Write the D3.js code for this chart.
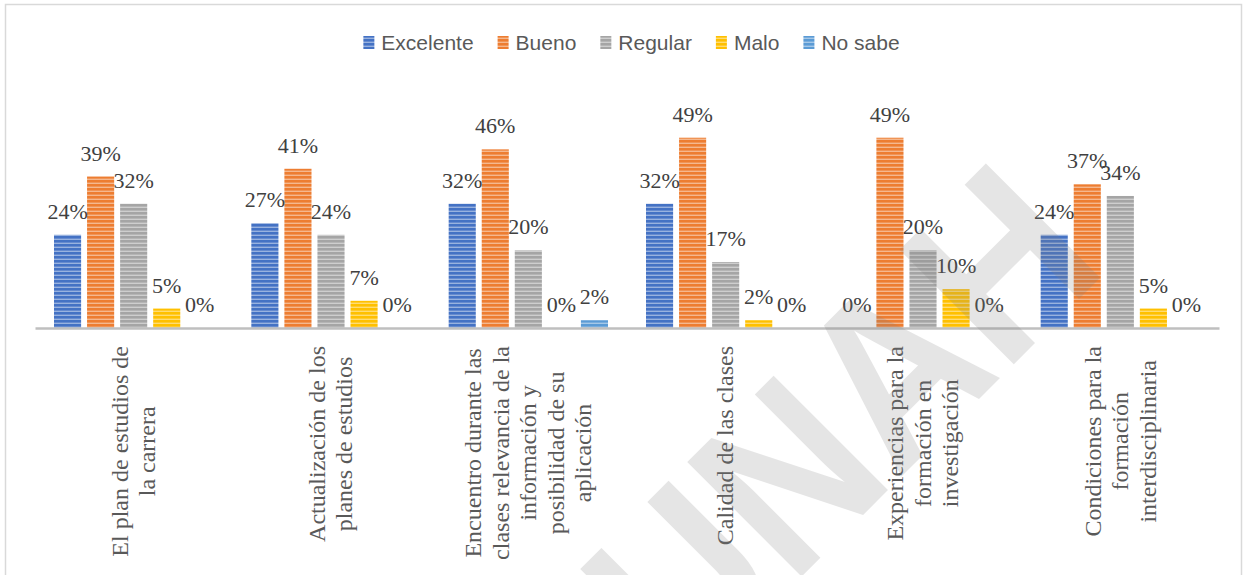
<!DOCTYPE html>
<html>
<head>
<meta charset="utf-8">
<script src="https://cdn.jsdelivr.net/npm/d3@7/dist/d3.min.js"></script>
<style>
  html, body { margin: 0; padding: 0; background: #fff; }
  svg { display: block; }
</style>
</head>
<body>
<div id="chart"></div>
<script>
// categories, split in lines the way the source wraps them
var categoryLines = [
  ["El plan de estudios de", "la carrera"],
  ["Actualización de los", "planes de estudios"],
  ["Encuentro durante las", "clases relevancia de la", "información y", "posibilidad de su", "aplicación"],
  ["Calidad de las clases"],
  ["Experiencias para la", "formación en", "investigación"],
  ["Condiciones para la", "formación", "interdisciplinaria"]
];
var categories = categoryLines.map(function(l) { return l.join(" "); });

var seriesNames = ["Excelente", "Bueno", "Regular", "Malo", "No sabe"];
var seriesColors = ["#4472C4", "#ED7D31", "#A5A5A5", "#FFC000", "#5B9BD5"];

var excelente = [0.24, 0.27, 0.32, 0.32, 0.00, 0.24];
var bueno     = [0.39, 0.41, 0.46, 0.49, 0.49, 0.37];
var regular   = [0.32, 0.24, 0.20, 0.17, 0.20, 0.34];
var malo      = [0.05, 0.07, 0.00, 0.02, 0.10, 0.05];
var noSabe    = [0.00, 0.00, 0.02, 0.00, 0.00, 0.00];
var seriesValues = [excelente, bueno, regular, malo, noSabe];

var width = 1246, height = 575;

var svg = d3.select("#chart").append("svg")
  .attr("width", width)
  .attr("height", height);

svg.append("rect")
  .attr("width", width).attr("height", height)
  .attr("fill", "#fff");

// chart area border
svg.append("rect")
  .attr("x", 5.5).attr("y", 4.5)
  .attr("width", 1236).attr("height", 620)
  .attr("fill", "none")
  .attr("stroke", "#d9d9d9")
  .attr("stroke-width", 1.5);

// striped fills
var defs = svg.append("defs");
seriesColors.forEach(function(c, i) {
  var p = defs.append("pattern")
    .attr("id", "stripe" + i)
    .attr("patternUnits", "userSpaceOnUse")
    .attr("width", 8).attr("height", 4);
  p.append("rect").attr("width", 8).attr("height", 4).attr("fill", c);
  p.append("rect").attr("y", 2.6).attr("width", 8).attr("height", 1.4)
    .attr("fill", "#fff").attr("opacity", 0.45);
});

var x0 = d3.scaleBand().domain(categories).range([35, 1219]);
var x1 = d3.scaleBand().domain(seriesNames)
  .range([19, x0.bandwidth() - 19])
  .paddingInner(0.18);
var y = d3.scaleLinear().domain([0, 0.6]).range([328, 95]);

var rows = categories.map(function(c, ci) {
  return seriesNames.map(function(s, si) {
    return { cat: c, series: s, si: si, value: seriesValues[si][ci] };
  });
});

var groups = svg.selectAll(".group")
  .data(rows)
  .enter().append("g")
    .attr("class", "group")
    .attr("transform", function(d, i) { return "translate(" + x0(categories[i]) + ",0)"; });

groups.selectAll(".bar")
  .data(function(d) { return d; })
  .enter().append("rect")
    .attr("class", "bar")
    .attr("x", function(d) { return x1(d.series); })
    .attr("y", function(d) { return y(d.value); })
    .attr("width", x1.bandwidth())
    .attr("height", function(d) { return y(0) - y(d.value); })
    .attr("fill", function(d) { return "url(#stripe" + d.si + ")"; });

// data labels, 0% included
groups.selectAll(".lbl")
  .data(function(d) { return d; })
  .enter().append("text")
    .attr("class", "lbl")
    .attr("x", function(d) { return x1(d.series) + x1.bandwidth() / 2; })
    .attr("y", function(d) { return y(d.value) - 16; })
    .attr("text-anchor", "middle")
    .attr("font-family", "'Liberation Serif', 'Times New Roman', serif")
    .attr("font-size", 22)
    .attr("fill", "#404040")
    .text(function(d) { return Math.round(d.value * 100) + "%"; });

// category axis line
var xAxis = svg.append("g")
  .attr("transform", "translate(0," + y(0) + ")")
  .call(d3.axisBottom(x0).tickSize(0).tickSizeOuter(0).tickFormat(""));
xAxis.select(".domain")
  .attr("stroke", "#bfbfbf")
  .attr("stroke-width", 2.5);

// rotated multi-line category labels
var labelTop = 346, lineGap = 27.5;
categoryLines.forEach(function(lines, ci) {
  var cx = x0(categories[ci]) + x0.bandwidth() / 2;
  var g = svg.append("g")
    .attr("transform", "translate(" + cx + "," + labelTop + ") rotate(-90)");
  var texts = g.selectAll("text")
    .data(lines)
    .enter().append("text")
      .attr("font-family", "'Liberation Serif', 'Times New Roman', serif")
      .attr("font-size", 24)
      .attr("fill", "#595959")
      .attr("text-anchor", "middle")
      .attr("y", function(d, i) { return (i - (lines.length - 1) / 2) * lineGap; })
      .attr("dy", "0.32em")
      .text(function(d) { return d; });
  var maxLen = d3.max(texts.nodes(), function(n) { return n.getComputedTextLength(); });
  texts.attr("x", -maxLen / 2);
});

// legend
var legend = svg.append("g");
var lx = 0;
seriesNames.forEach(function(s, i) {
  var item = legend.append("g").attr("transform", "translate(" + lx + ",0)");
  item.append("rect")
    .attr("x", 0).attr("y", -7)
    .attr("width", 11).attr("height", 13)
    .attr("fill", "url(#stripe" + i + ")");
  var t = item.append("text")
    .attr("x", 18).attr("y", 0)
    .attr("dy", "0.35em")
    .attr("font-family", "'Liberation Sans', Arial, sans-serif")
    .attr("font-size", 21)
    .attr("fill", "#595959")
    .text(s);
  lx += 18 + t.node().getComputedTextLength() + 24;
});
lx -= 24;
legend.attr("transform", "translate(" + (631.5 - lx / 2) + ",43)");

// faint diagonal watermark over the plot
svg.append("text")
  .attr("transform", "translate(1110,268) rotate(-45)")
  .attr("text-anchor", "end")
  .attr("font-family", "'Liberation Sans', Arial, sans-serif")
  .attr("font-weight", "bold")
  .attr("font-size", 235)
  .attr("textLength", 600)
  .attr("lengthAdjust", "spacingAndGlyphs")
  .attr("fill", "#808080")
  .attr("opacity", 0.2)
  .text("UNAH");
</script>
</body>
</html>
